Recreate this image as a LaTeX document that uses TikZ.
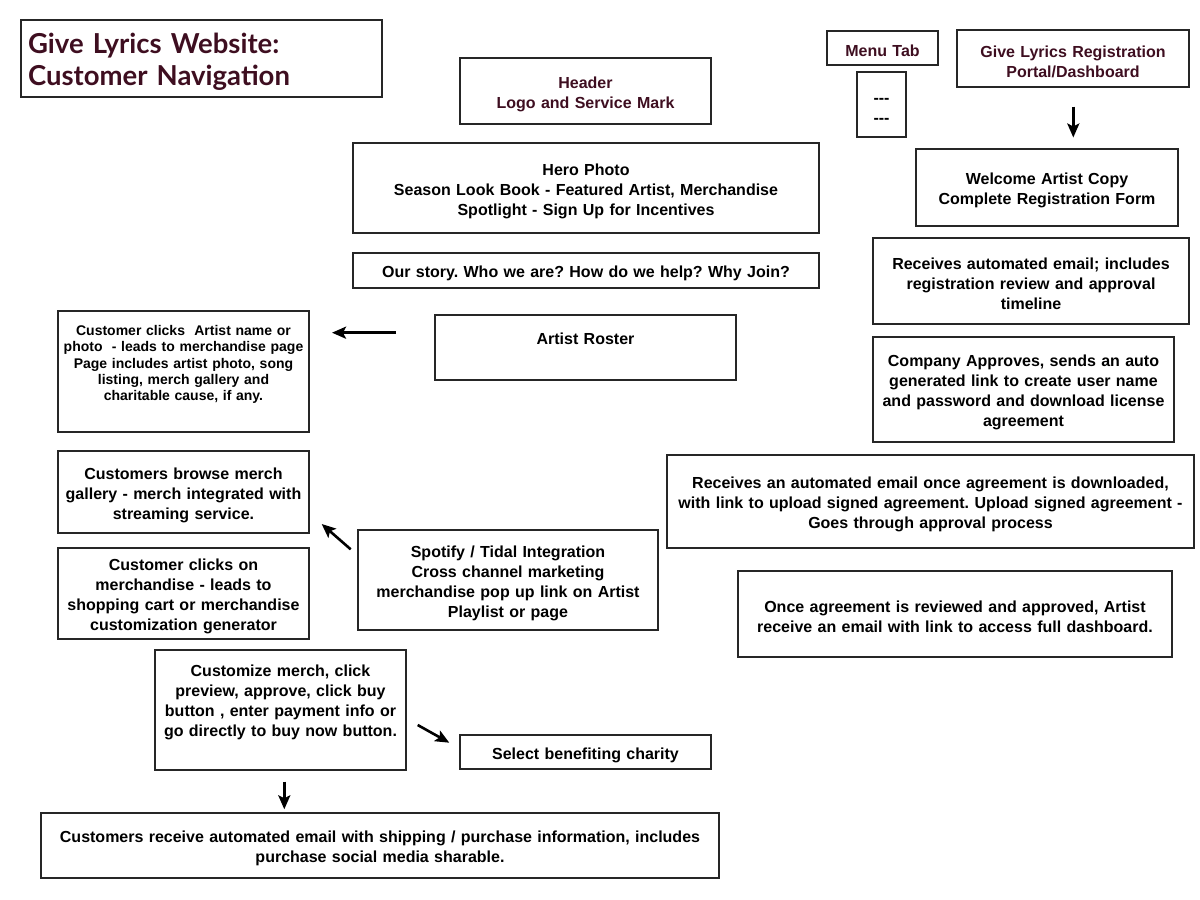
\documentclass[tikz,border=0pt]{standalone}
\usepackage{fontspec}
\setmainfont{Liberation Sans}
\newfontfamily\titlefont{Lato}
\usetikzlibrary{arrows.meta}
\frenchspacing

\definecolor{maroon}{RGB}{62,14,32}

\tikzset{
	frame/.style={draw=black!85, line width=1.1pt, inner sep=0pt, align=center},
	box/.style={frame, font=\bfseries\fontsize{16}{20}\selectfont,
		execute at begin node={\rule{0pt}{1.1em}}},
	smallbox/.style={box, font=\bfseries\fontsize{14}{16.3}\selectfont},
	boxsize/.style 2 args={minimum width=#1, minimum height=#2, text width=#1},
	navarrow/.style={line width=2.6pt, -{Stealth[length=14pt,width=12pt,inset=3pt]}}
}

\begin{document}
\begin{tikzpicture}[x=1pt,y=-1pt]
	\useasboundingbox (0,0) rectangle (1200,900);

	% title
	\node[frame, boxsize={361pt}{77pt}, text width=347pt, align=left, text=maroon,
		font=\titlefont\bfseries\fontsize{27.5}{32}\selectfont,
		execute at begin node={\rule{0pt}{26pt}}] (title) at (201.5,58.5)
		{Give Lyrics Website:\\Customer Navigation};

	% customer side
	\node[box, boxsize={251pt}{66pt}, text=maroon] (header) at (585.5,91) {Header\\Logo and Service Mark};
	\node[box, boxsize={466pt}{90pt}] (hero) at (586,188)
		{Hero Photo\\Season Look Book - Featured Artist, Merchandise\\Spotlight - Sign Up for Incentives};
	\node[box, boxsize={466pt}{35pt}] (story) at (586,270.5) {Our story. Who we are? How do we help? Why Join?};
	\node[box, boxsize={301pt}{65pt}, text depth=23pt] (roster) at (585.5,347.5) {Artist Roster};
	\node[smallbox, boxsize={251pt}{121pt}, text depth=87.5pt] (artistpage) at (183.5,371.5)
		{Customer clicks\ \ Artist name or\\photo\ \ - leads to merchandise page\\Page includes artist photo, song\\listing, merch gallery and\\charitable cause, if any.};
	\node[box, boxsize={251pt}{82pt}] (browse) at (183.5,492)
		{Customers browse merch\\gallery - merch integrated with\\streaming service.};
	\node[box, boxsize={251pt}{91pt}] (cart) at (183.5,593.5)
		{Customer clicks on\\merchandise - leads to\\shopping cart or merchandise\\customization generator};
	\node[box, boxsize={300pt}{100pt}] (spotify) at (508,580)
		{Spotify / Tidal Integration\\Cross channel marketing\\merchandise pop up link on Artist\\Playlist or page};
	\node[box, boxsize={251pt}{120pt}, text depth=84pt] (customize) at (280.5,710)
		{Customize merch, click\\preview, approve, click buy\\button , enter payment info or\\go directly to buy now button.};
	\node[box, boxsize={251pt}{34pt}] (charity) at (585.5,752) {Select benefiting charity};
	\node[box, boxsize={678pt}{65pt}] (shipping) at (380,845.5)
		{Customers receive automated email with shipping / purchase information, includes\\purchase social media sharable.};

	% menu and artist side
	\node[box, boxsize={111pt}{34pt}, text=maroon] (menu) at (882.5,48) {Menu Tab};
	\node[box, boxsize={49pt}{65pt}] (dashes) at (881.5,104.5) {-{}-{}-\\-{}-{}-};
	\node[box, boxsize={232pt}{57pt}, text=maroon] (portal) at (1073,58.5)
		{Give Lyrics Registration\\Portal/Dashboard};
	\node[box, boxsize={262pt}{77pt}] (welcome) at (1047,187.5)
		{Welcome Artist Copy\\Complete Registration Form};
	\node[box, boxsize={316pt}{86pt}] (autoemail) at (1031,281)
		{Receives automated email; includes\\registration review and approval\\timeline};
	\node[box, boxsize={301pt}{105pt}] (approves) at (1023.5,389.5)
		{Company Approves, sends an auto\\generated link to create user name\\and password and download license\\agreement};
	\node[box, boxsize={527pt}{93pt}] (upload) at (930.5,501.5)
		{Receives an automated email once agreement is downloaded,\\with link to upload signed agreement. Upload signed agreement -\\Goes through approval process};
	\node[box, boxsize={434pt}{86pt}] (fullaccess) at (955,614)
		{Once agreement is reviewed and approved, Artist\\receive an email with link to access full dashboard.};

	% arrows
	\coordinate (a1) at (1073.3,106.7);
	\coordinate (b1) at (1073.3,137.5);
	\coordinate (a2) at (396,332.7);
	\coordinate (b2) at (332,332.7);
	\coordinate (a3) at (350.7,549.3);
	\coordinate (b3) at (321.7,524);
	\coordinate (a4) at (417.7,725);
	\coordinate (b4) at (449.3,742.7);
	\coordinate (a5) at (284.3,781.7);
	\coordinate (b5) at (284.3,809.3);

	\draw[navarrow] (a1) -- (b1);
	\draw[navarrow] (a2) -- (b2);
	\draw[navarrow] (a3) -- (b3);
	\draw[navarrow] (a4) -- (b4);
	\draw[navarrow] (a5) -- (b5);
\end{tikzpicture}
\end{document}
